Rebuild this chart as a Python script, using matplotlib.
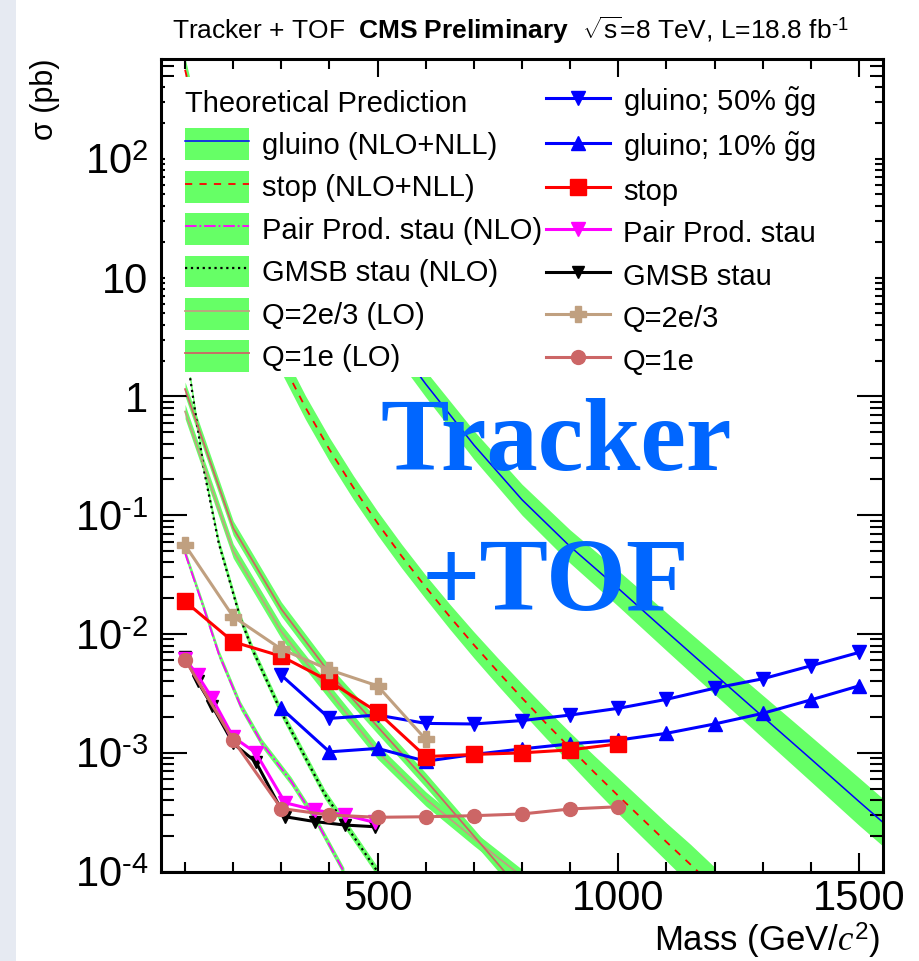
import numpy as np
import matplotlib
matplotlib.use("Agg")
import matplotlib.pyplot as plt
from matplotlib.patches import Patch, Rectangle
from matplotlib.lines import Line2D
from matplotlib.ticker import FixedLocator, MultipleLocator, LogLocator, FuncFormatter, NullFormatter

plt.rcParams['font.family'] = 'Liberation Sans'
plt.rcParams['mathtext.fontset'] = 'custom'
plt.rcParams['mathtext.rm'] = 'Liberation Sans'
plt.rcParams['mathtext.sf'] = 'Liberation Sans'
plt.rcParams['mathtext.bf'] = 'Liberation Sans:bold'
plt.rcParams['mathtext.it'] = 'Liberation Serif:italic'

# ---- observed limits (pb) ----
gl50_m = [300, 400, 500, 600, 700, 800, 900, 1000, 1100, 1200, 1300, 1400, 1500]
gl50 = [0.0045, 0.00195, 0.00208, 0.00177, 0.00175, 0.00187, 0.00208, 0.00237,
        0.00282, 0.0035, 0.0042, 0.0054, 0.0070]
gl10_m = [300, 400, 500, 600, 700, 800, 900, 1000, 1100, 1200, 1300, 1400, 1500]
gl10 = [0.00237, 0.00102, 0.00109, 0.00085, 0.00097, 0.00108, 0.00119, 0.00128,
        0.00146, 0.00175, 0.00215, 0.00279, 0.00366]
stop_m = [100, 200, 300, 400, 500, 600, 700, 800, 900, 1000]
stop = [0.0188, 0.0086, 0.0065, 0.0040, 0.0022, 0.00093, 0.00097, 0.00100, 0.00106, 0.00119]
stau_m = [100, 126, 156, 200, 247, 308, 370, 432, 494]
pair_stau = [0.0062, 0.0045, 0.0029, 0.00136, 0.00100, 0.00038, 0.00033, 0.00030, 0.00026]
gmsb_stau = [0.0064, 0.0040, 0.0025, 0.0012, 0.00084, 0.00029, 0.000264, 0.000247, 0.000239]
q23_m = [100, 200, 300, 400, 500, 600]
q23 = [0.056, 0.014, 0.00745, 0.0050, 0.00366, 0.0013]
q1_m = [100, 200, 300, 400, 500, 600, 700, 800, 900, 1000]
q1 = [0.0061, 0.00128, 0.00034, 0.00030, 0.000287, 0.00029, 0.000296, 0.000306, 0.000337, 0.000352]

# ---- theory predictions (pb) and band half-widths (decades) ----
gl_th_m = [500, 600, 700, 800, 900, 1000, 1100, 1200, 1300, 1400, 1500, 1550]
gl_th = [4.5, 1.27, 0.39, 0.135, 0.0545, 0.0242, 0.0105, 0.0046, 0.00202, 0.00089, 0.00039, 0.00026]
gl_err = [0.11, 0.11, 0.12, 0.13, 0.14, 0.15, 0.16, 0.17, 0.18, 0.19, 0.20, 0.20]
st_th_m = [100, 150, 200, 250, 300, 350, 400, 450, 500, 550, 600, 650, 700, 750,
           800, 850, 900, 950, 1000, 1050, 1100, 1150, 1200]
st_th = [560, 80.3, 18.5, 5.58, 2.00, 0.807, 0.357, 0.170, 0.0856, 0.0452, 0.0248, 0.0140,
         0.00811, 0.00481, 0.00290, 0.00177, 0.00110, 0.000687, 0.000435, 0.000278,
         0.000178, 0.000115, 0.0000740]
st_err = [0.10, 0.10, 0.10, 0.10, 0.10, 0.10, 0.10, 0.10, 0.10, 0.10, 0.10, 0.105,
          0.11, 0.115, 0.12, 0.125, 0.13, 0.14, 0.15, 0.155, 0.16, 0.17, 0.17]
pair_th_m = [100, 140, 170, 215, 260, 320, 370, 430]
pair_th = [0.048, 0.016, 0.0068, 0.0025, 0.0012, 0.00058, 0.00028, 0.0001]
pair_err = [0.035] * 8
gmsb_th_m = [100, 110, 140, 170, 215, 240, 300, 390, 500]
gmsb_th = [2.8, 1.47, 0.23, 0.058, 0.0135, 0.0074, 0.0022, 0.00045, 0.0001]
gmsb_err = [0.04] * 9
q_th_m = [100, 200, 300, 400, 500, 600, 700, 800]
q23_th = [0.745, 0.050, 0.0105, 0.00324, 0.00102, 0.00041, 0.00019, 0.0000912]
q1_th = [1.15, 0.078, 0.0162, 0.0047, 0.00166, 0.00059, 0.0002, 0.0000676]
q_err = [0.06] * 8

GREEN = '#66ff66'
TAN = '#c0a080'
ROSE = '#cc6666'

fig = plt.figure(figsize=(9.19, 9.61), dpi=100)
fig.patches.append(Rectangle((0, 0), 16 / 919, 1, transform=fig.transFigure,
                             facecolor='#e6eaf2', edgecolor='none', zorder=-1))
ax = fig.add_axes([161 / 919, 89.3 / 961, 722 / 919, 812.7 / 961])


def band(m, xs, err, line_kw):
    xs = np.array(xs)
    e = 10.0 ** np.array(err)
    ax.fill_between(m, xs / e, xs * e, color=GREEN, lw=0, zorder=1)
    ax.plot(m, xs, zorder=2, **line_kw)


band(gl_th_m, gl_th, gl_err, dict(color='blue', lw=1.1))
band(st_th_m, st_th, st_err, dict(color='red', lw=1.3, ls=(0, (4, 4))))
band(pair_th_m, pair_th, pair_err, dict(color='magenta', lw=1.3, ls='-.'))
band(gmsb_th_m, gmsb_th, gmsb_err, dict(color='black', lw=1.6, ls=':'))
band(q_th_m, q23_th, q_err, dict(color=TAN, lw=1.3))
band(q_th_m, q1_th, q_err, dict(color=ROSE, lw=1.3))

styles = {
    'gl50': dict(color='blue', marker='v', ms=10),
    'gl10': dict(color='blue', marker='^', ms=10),
    'stop': dict(color='red', marker='s', ms=11),
    'pair': dict(color='magenta', marker='v', ms=10),
    'gmsb': dict(color='black', marker='v', ms=9),
    'q23': dict(color=TAN, marker='P', ms=12),
    'q1': dict(color=ROSE, marker='o', ms=10),
}
ax.plot(stau_m, gmsb_stau, lw=2.2, zorder=3, **styles['gmsb'])
ax.plot(stau_m, pair_stau, lw=2.2, zorder=3, **styles['pair'])
ax.plot(gl10_m, gl10, lw=2.2, zorder=3, **styles['gl10'])
ax.plot(gl50_m, gl50, lw=2.2, zorder=3, **styles['gl50'])
ax.plot(stop_m, stop, lw=2.2, zorder=3, **styles['stop'])
ax.plot(q23_m, q23, lw=2.2, zorder=3, **styles['q23'])
ax.plot(q1_m, q1, lw=2.2, zorder=3, **styles['q1'])

ax.set_yscale('log')
ax.set_xlim(50, 1550)
ax.set_ylim(1e-4, 690)

ax.xaxis.set_major_locator(FixedLocator([500, 1000, 1500]))
ax.xaxis.set_minor_locator(MultipleLocator(100))
ax.yaxis.set_major_locator(FixedLocator([1e-4, 1e-3, 1e-2, 1e-1, 1, 10, 100]))
ax.yaxis.set_minor_locator(LogLocator(base=10, subs=np.arange(2, 10), numticks=20))
ax.yaxis.set_minor_formatter(NullFormatter())


def ylab(v, pos):
    e = int(round(np.log10(v)))
    if e == 0:
        return '1'
    if e == 1:
        return '10'
    if e < 0:
        return r'$10^{\text{-}%d}$' % (-e)
    return r'$10^{%d}$' % e


ax.yaxis.set_major_formatter(FuncFormatter(ylab))
ax.tick_params(which='both', direction='in', top=True, right=True, width=1.5, labelsize=30)
ax.tick_params(axis='x', which='major', length=14, pad=5)
ax.tick_params(axis='x', which='minor', length=7)
ax.tick_params(axis='y', which='major', length=19, pad=9)
ax.tick_params(axis='y', which='minor', length=9.5)
for s in ax.spines.values():
    s.set_linewidth(2.2)

ax.set_xlabel(r'Mass (GeV/$c^{2}$)', fontsize=25, loc='right')
ax.xaxis.set_label_coords(0.996, -0.061)
ax.set_ylabel('σ (pb)', fontsize=22, loc='top')
ax.yaxis.set_label_coords(-0.140, 1.0)

fig.text(172 / 919, 1 - 39 / 961,
         r'Tracker + TOF  $\mathbf{CMS\ Preliminary}$  $\sqrt{\mathrm{s}}$=8 TeV, L=18.8 fb$^{\text{-}1}$',
         fontsize=19, ha='left', va='baseline')

# white area behind the legends
ax.add_patch(Rectangle((0.0055, 0.609), 0.983, 0.369, transform=ax.transAxes,
                       facecolor='white', edgecolor='none', zorder=4))

leg_kw = dict(frameon=False, borderpad=0, borderaxespad=0, handlelength=2.2, handleheight=1.3,
              handletextpad=0.45, labelspacing=0.365, prop={'size': 21})


def th_handle(**kw):
    return (Patch(facecolor=GREEN, edgecolor='none'), Line2D([], [], **kw))


th_handles = [
    th_handle(color='blue', lw=1.1),
    th_handle(color='red', lw=1.3, ls=(0, (4, 4))),
    th_handle(color='magenta', lw=1.3, ls='-.'),
    th_handle(color='black', lw=1.6, ls=':'),
    th_handle(color=TAN, lw=1.3),
    th_handle(color=ROSE, lw=1.3),
]
th_labels = ['gluino (NLO+NLL)', 'stop (NLO+NLL)', 'Pair Prod. stau (NLO)',
             'GMSB stau (NLO)', 'Q=2e/3 (LO)', 'Q=1e (LO)']
leg1 = ax.legend(th_handles, th_labels, loc='upper left', bbox_to_anchor=(0.0332, 0.9623),
                 title='Theoretical Prediction', title_fontsize=21, alignment='left', **leg_kw)
leg1.set_zorder(5)
ax.add_artist(leg1)

ex_handles = [Line2D([], [], lw=2.2, **styles[k]) for k in
              ['gl50', 'gl10', 'stop', 'pair', 'gmsb', 'q23', 'q1']]
ex_labels = [r'gluino; 50% $\tilde{\mathrm{g}}$g', r'gluino; 10% $\tilde{\mathrm{g}}$g', 'stop',
             'Pair Prod. stau', 'GMSB stau', 'Q=2e/3', 'Q=1e']
leg2 = ax.legend(ex_handles, ex_labels, loc='upper left', bbox_to_anchor=(0.533, 0.9673),
                 numpoints=1, **leg_kw)
leg2.set_zorder(5)

ax.text(0.547, 0.4943, 'Tracker', transform=ax.transAxes, ha='center', va='baseline',
        fontsize=74, fontweight='bold', family='Liberation Serif', color='#0066ff', zorder=6)
ax.text(0.547, 0.322, '+TOF', transform=ax.transAxes, ha='center', va='baseline',
        fontsize=74, fontweight='bold', family='Liberation Serif', color='#0066ff', zorder=6)

fig.savefig('out.png', dpi=100)
